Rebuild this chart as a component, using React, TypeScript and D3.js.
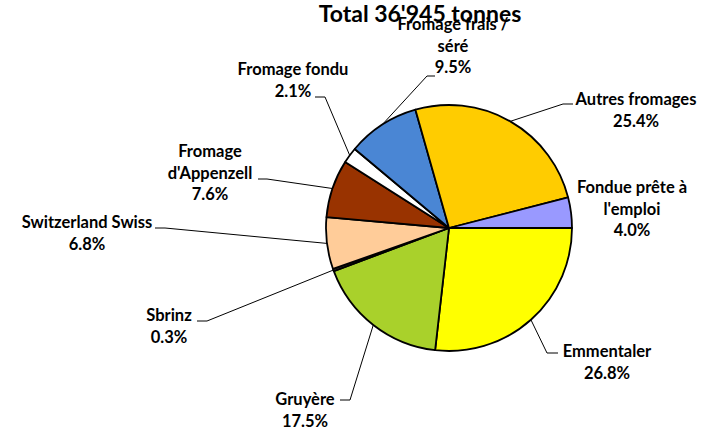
import React from "react";
import * as d3 from "d3";

const title = "Total 36'945 tonnes";
const categories = [
  "Emmentaler",
  "Gruyère",
  "Sbrinz",
  "Switzerland Swiss",
  "Fromage d'Appenzell",
  "Fromage fondu",
  "Fromage frais / séré",
  "Autres fromages",
  "Fondue prête à l'emploi",
];
const values = [26.8, 17.5, 0.3, 6.8, 7.6, 2.1, 9.5, 25.4, 4.0];
const colors = [
  "#FFFF00",
  "#A9D12B",
  "#404040",
  "#FFCC99",
  "#993300",
  "#FFFFFF",
  "#4A86D4",
  "#FFCC00",
  "#9999FF",
];
const labelLines = [
  ["Emmentaler"],
  ["Gruyère"],
  ["Sbrinz"],
  ["Switzerland Swiss"],
  ["Fromage", "d'Appenzell"],
  ["Fromage fondu"],
  ["Fromage frais /", "séré"],
  ["Autres fromages"],
  ["Fondue prête à", "l'emploi"],
];

// label layout: text centre x, first baseline y, leader elbow & end (null = no leader)
const labelLayout: { x: number; y: number; elbow: [number, number] | null; end: [number, number] | null }[] = [
  { x: 607, y: 357, elbow: [547, 353], end: [558, 353] },
  { x: 305, y: 405, elbow: [350, 400], end: [340, 400] },
  { x: 169, y: 321, elbow: [207, 321], end: [197, 321] },
  { x: 87, y: 228, elbow: [165, 228], end: [155, 228] },
  { x: 210, y: 157, elbow: [267, 179], end: [258, 179] },
  { x: 293, y: 75, elbow: [325, 97], end: [315, 97] },
  { x: 453, y: 30, elbow: [427, 76], end: [435, 76] },
  { x: 636, y: 105, elbow: [563, 104], end: [573, 104] },
  { x: 632, y: 193, elbow: null, end: null },
];

const W = 708;
const H = 429;
const CX = 449;
const CY = 228;
const R = 123;
const LH = 21.5;
const FONT = "Lato, 'Open Sans', sans-serif";

export default function App() {
  const data = values.map((v, i) => ({ v, i }));
  const pie = d3
    .pie<{ v: number; i: number }>()
    .value((d) => d.v)
    .sort(null)
    .startAngle(Math.PI / 2)
    .endAngle(Math.PI / 2 + 2 * Math.PI);
  const arcs = pie(data);
  const arc = d3.arc<d3.PieArcDatum<{ v: number; i: number }>>().innerRadius(0).outerRadius(R);
  const edgeArc = d3.arc<d3.PieArcDatum<{ v: number; i: number }>>().innerRadius(R).outerRadius(R);

  return (
    <svg
      width={W}
      height={H}
      style={{ position: "absolute", left: 0, top: 0, background: "#fff" }}
      fontFamily={FONT}
    >
      <rect width={W} height={H} fill="#fff" />
      <g transform={`translate(${CX},${CY})`}>
        {arcs.map((a) => (
          <path
            key={a.data.i}
            d={arc(a) || ""}
            fill={colors[a.data.i]}
            stroke="#000"
            strokeWidth={1.8}
            strokeLinejoin="round"
          />
        ))}
      </g>
      {arcs.map((a) => {
        const L = labelLayout[a.data.i];
        if (!L.elbow || !L.end) return null;
        const [px, py] = edgeArc.centroid(a);
        const line = d3.line()([
          [CX + px, CY + py],
          L.elbow,
          L.end,
        ]);
        return <path key={"l" + a.data.i} d={line || ""} fill="none" stroke="#000" strokeWidth={1} />;
      })}
      {arcs.map((a) => {
        const i = a.data.i;
        const L = labelLayout[i];
        const lines = [...labelLines[i], values[i].toFixed(1) + "%"];
        return (
          <text
            key={"t" + i}
            x={L.x}
            y={L.y}
            textAnchor="middle"
            fontSize={16.5}
            fontWeight={700}
            fill="#000"
          >
            {lines.map((s, k) => (
              <tspan key={k} x={L.x} y={L.y + k * LH}>
                {s}
              </tspan>
            ))}
          </text>
        );
      })}
      <text x={420} y={22} textAnchor="middle" fontSize={23} fontWeight={700} fill="#000">
        {title}
      </text>
    </svg>
  );
}
